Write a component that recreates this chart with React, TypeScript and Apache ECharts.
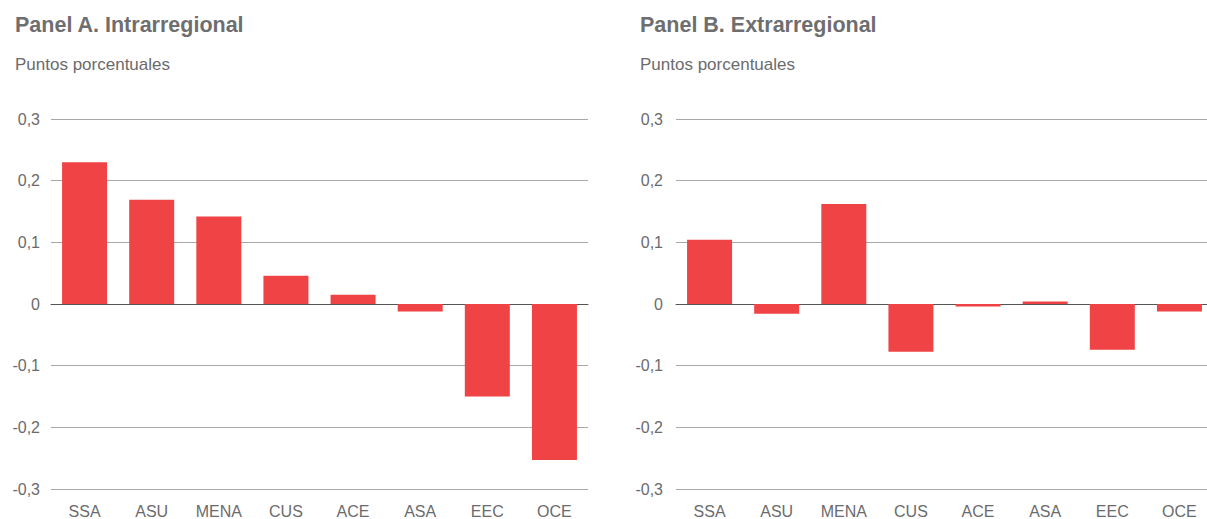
import React, { useEffect, useRef } from "react";
import * as echarts from "echarts";

const categories = ["SSA", "ASU", "MENA", "CUS", "ACE", "ASA", "EEC", "OCE"];
const intraValues = [0.23, 0.169, 0.142, 0.046, 0.015, -0.012, -0.15, -0.253];
const extraValues = [0.104, -0.016, 0.162, -0.0775, -0.004, 0.004, -0.074, -0.012];
const panelTitles = ["Panel A. Intrarregional", "Panel B. Extrarregional"];
const unitLabel = "Puntos porcentuales";

const BAR_COLOR = "#ef4346";
const TEXT_COLOR = "#6b6b6d";
const FONT = "'Liberation Sans', Arial, Helvetica, sans-serif";

const fmt = (v: number) => {
  const r = Math.round(v * 10) / 10;
  if (r === 0) return "0";
  return r.toFixed(1).replace(".", ",");
};

export default function App() {
  const ref = useRef<HTMLDivElement>(null);
  useEffect(() => {
    if (!ref.current) return;
    document.body.style.overflow = "hidden";
    const chart = echarts.init(ref.current, undefined, { renderer: "svg" });
    const grids = [
      { left: 51, top: 119, width: 537, height: 374 },
      { left: 676, top: 119, width: 537, height: 374 },
    ];
    const titleLefts = [15, 640];
    const xAxis = grids.map((_, i) => ({
      type: "category" as const,
      gridIndex: i,
      data: categories,
      axisLine: { onZero: true, lineStyle: { color: "#555", width: 1 } },
      axisTick: { show: false },
      axisLabel: {
        interval: 0,
        color: TEXT_COLOR,
        fontSize: 16,
        fontFamily: FONT,
        margin: 14,
      },
      position: "bottom" as const,
    }));
    const yAxis = grids.map((_, i) => ({
      type: "value" as const,
      gridIndex: i,
      min: -0.3,
      max: 0.3,
      interval: 0.1,
      axisLine: { show: false },
      axisTick: { show: false },
      splitLine: { show: true, lineStyle: { color: "#a8a8a8", width: 1 } },
      axisLabel: {
        color: TEXT_COLOR,
        fontSize: 16,
        fontFamily: FONT,
        margin: i === 0 ? 11 : 13,
        formatter: (v: number) => fmt(v),
      },
    }));
    const titles: any[] = [];
    panelTitles.forEach((t, i) => {
      titles.push({
        text: t,
        left: titleLefts[i],
        top: 14,
        padding: 0,
        textStyle: { fontSize: 21.5, fontWeight: "bold", color: "#6e6e70", fontFamily: FONT },
      });
      titles.push({
        text: unitLabel,
        left: titleLefts[i],
        top: 56,
        padding: 0,
        textStyle: { fontSize: 17, fontWeight: "normal", color: TEXT_COLOR, fontFamily: FONT },
      });
    });
    chart.setOption({
      animation: false,
      backgroundColor: "#ffffff",
      title: titles,
      grid: grids,
      xAxis,
      yAxis,
      series: [intraValues, extraValues].map((d, i) => ({
        type: "bar",
        xAxisIndex: i,
        yAxisIndex: i,
        data: d,
        barWidth: 45,
        itemStyle: { color: BAR_COLOR },
        z: 1,
      })),
    });
    return () => chart.dispose();
  }, []);
  return (
    <div
      ref={ref}
      style={{ position: "fixed", left: 0, top: 0, width: 1220, height: 519, background: "#fff" }}
    />
  );
}
